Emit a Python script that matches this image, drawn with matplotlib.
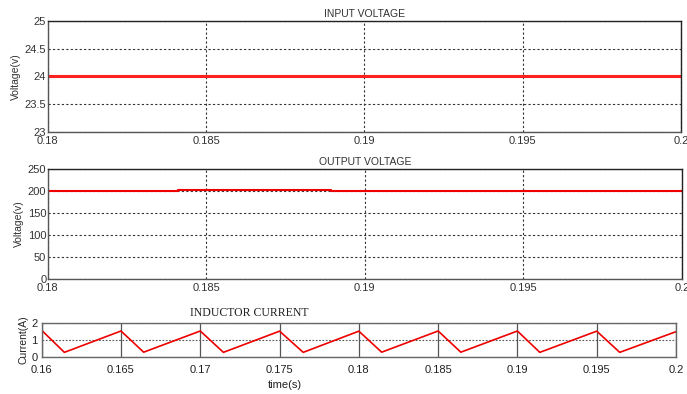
import numpy as np
import matplotlib.pyplot as plt

# input voltage (flat)
t_in = [0.18, 0.2]
v_in = [24.0, 24.0]

# output voltage, small steps
t_out = [0.18, 0.18026, 0.18411, 0.18894, 0.19402, 0.2]
v_out = [199, 200, 203, 200, 199, 199]

# inductor current: peaks and valleys of the ripple
pk_t = [0.160, 0.165, 0.170, 0.175, 0.180, 0.185, 0.190, 0.195]
pk_i = [1.58, 1.54, 1.54, 1.53, 1.53, 1.54, 1.54, 1.53]
vl_t = [0.16143, 0.16643, 0.17146, 0.17649, 0.18144, 0.18643, 0.19141, 0.19645]
vl_i = [0.26, 0.27, 0.26, 0.26, 0.27, 0.27, 0.26, 0.26]
end_t, end_i = 0.2, 1.5

t_cur = []
i_cur = []
for a, b, c, d in zip(pk_t, pk_i, vl_t, vl_i):
    t_cur += [a, c]
    i_cur += [b, d]
t_cur.append(end_t)
i_cur.append(end_i)

xt_v = [0.18, 0.185, 0.19, 0.195, 0.2]
xl_v = ['0.18', '0.185', '0.19', '0.195', '0.2']
xt_c = [0.16, 0.165, 0.17, 0.175, 0.18, 0.185, 0.19, 0.195, 0.2]
xl_c = ['0.16', '0.165', '0.17', '0.175', '0.18', '0.185', '0.19', '0.195', '0.2']

plt.rcParams['font.family'] = ['Liberation Sans', 'DejaVu Sans']
fig = plt.figure(figsize=(6.87, 3.94), dpi=100)

def style_volt(ax):
    for s in ax.spines.values():
        s.set_color('#555555')
        s.set_linewidth(1.0)
    ax.spines['top'].set_color('#222222')
    ax.spines['right'].set_color('#222222')
    ax.tick_params(axis='y', length=0, labelsize=8, colors='#333333', pad=1)
    ax.tick_params(axis='x', length=0, labelsize=8, colors='#333333', pad=3)
    ax.grid(True, color='#333333', linestyle=(0, (2, 2)), linewidth=0.8)

ax1 = fig.add_axes([0.0694, 0.6657, 0.9219, 0.2810])
ax1.plot(t_in, v_in, color='#ff2020', lw=2.2)
ax1.set_xlim(0.18, 0.2)
ax1.set_ylim(23, 25)
ax1.set_yticks([23, 23.5, 24, 24.5, 25])
ax1.set_yticklabels(['23', '23.5', '24', '24.5', '25'])
ax1.set_xticks(xt_v)
ax1.set_xticklabels(xl_v)
style_volt(ax1)
ax1.set_title('INPUT VOLTAGE', fontsize=7.5, color='#333333', pad=3)
ax1.set_ylabel('Voltage(v)', fontsize=7.5, color='#333333', labelpad=3)

ax2 = fig.add_axes([0.0694, 0.2919, 0.9233, 0.2792])
ax2.plot(t_out, v_out, color='#ee0000', lw=1.5, drawstyle='steps-post')
ax2.set_xlim(0.18, 0.2)
ax2.set_ylim(0, 250)
ax2.set_yticks([0, 50, 100, 150, 200, 250])
ax2.set_xticks(xt_v)
ax2.set_xticklabels(xl_v)
style_volt(ax2)
ax2.set_title('OUTPUT VOLTAGE', fontsize=7.5, color='#333333', pad=3)
ax2.set_ylabel('Voltage(v)', fontsize=7.5, color='#333333', labelpad=3)

ax3 = fig.add_axes([0.0607, 0.0947, 0.9233, 0.0847])
ax3.plot(t_cur, i_cur, color='#ee0000', lw=1.2)
ax3.set_xlim(0.16, 0.2)
ax3.set_ylim(0, 2)
ax3.set_yticks([0, 1, 2])
ax3.set_xticks(xt_c)
ax3.set_xticklabels(xl_c)
for s in ax3.spines.values():
    s.set_color('#666666')
    s.set_linewidth(1.0)
ax3.tick_params(axis='x', length=0, labelsize=8, colors='#222222', pad=6)
ax3.tick_params(axis='y', length=0, labelsize=8, colors='#222222', pad=3)
ax3.xaxis.grid(True, color='#555555', linestyle='-', linewidth=0.9)
ax3.yaxis.grid(True, color='#555555', linestyle=(0, (1.5, 1.5)), linewidth=0.8)
ax3.set_ylabel('Current(A)', fontsize=7.5, color='#222222', labelpad=2)
fig.text(190 / 687, 1 - 313 / 394, 'INDUCTOR CURRENT', fontsize=8.5,
         family='Liberation Serif', color='#222222', va='center')
fig.text(285 / 687, 1 - 385 / 394, 'time(s)', fontsize=8,
         color='#222222', ha='center', va='center')

fig.savefig('out.png', dpi=100)
